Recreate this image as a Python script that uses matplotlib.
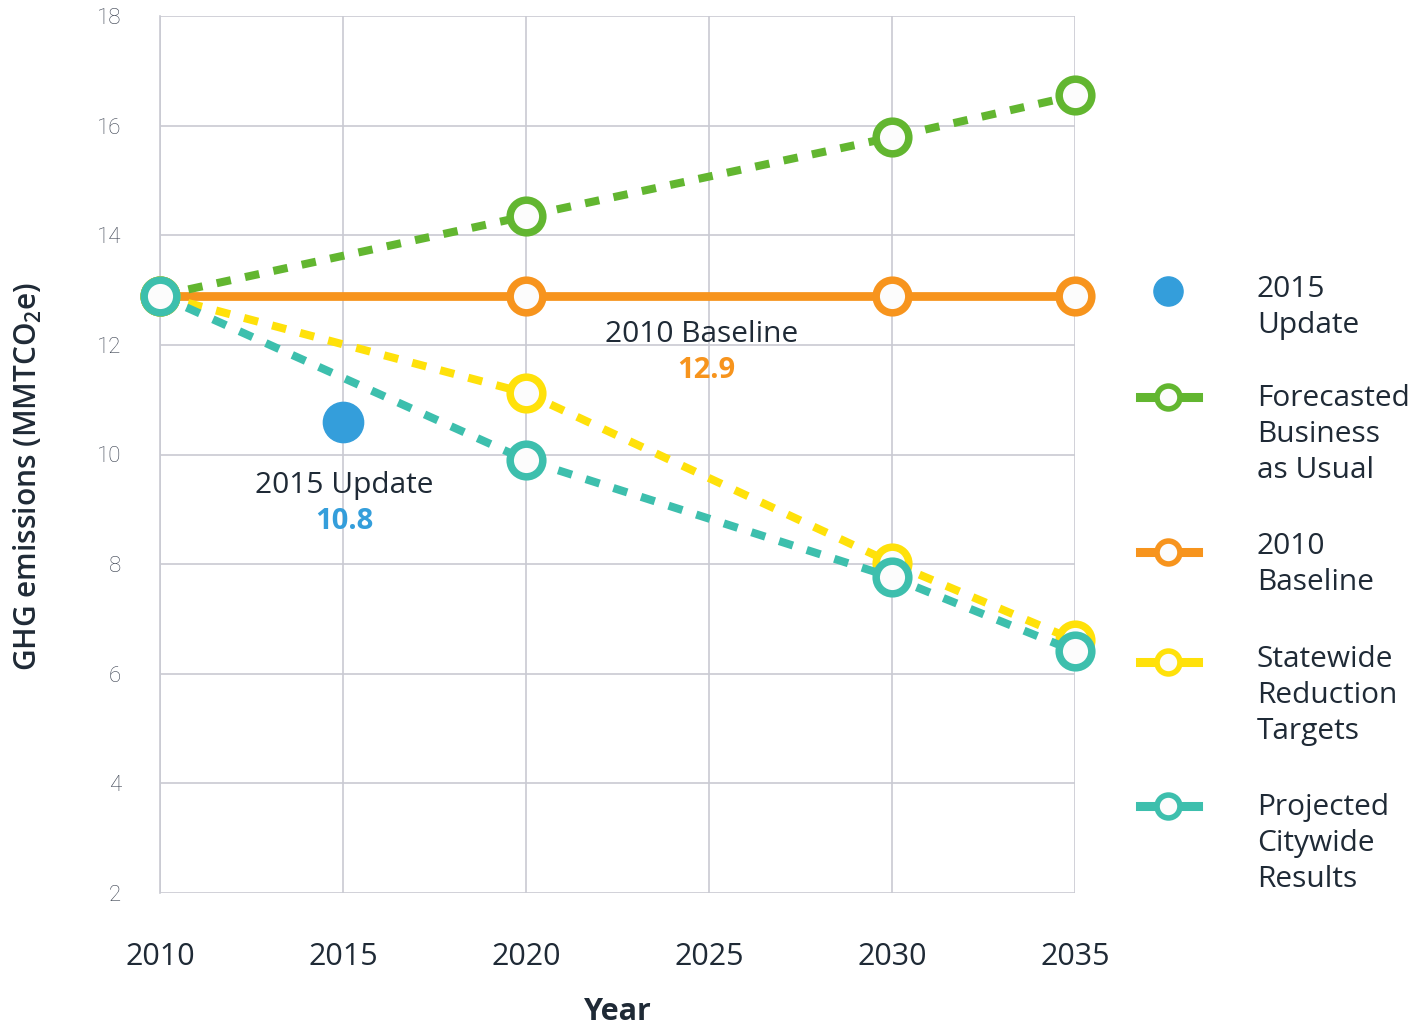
import matplotlib
matplotlib.use("Agg")
import matplotlib.pyplot as plt
from matplotlib.lines import Line2D

# data
years = [2010, 2020, 2030, 2035]
baseline = [12.9, 12.9, 12.9, 12.9]
business_as_usual = [12.9, 14.35, 15.79, 16.55]
statewide_targets = [12.9, 11.12, 8.02, 6.61]
citywide_results = [12.9, 9.9, 7.76, 6.41]
update_year = [2015]
update_value = [10.6]

x_ticks = [2010, 2015, 2020, 2025, 2030, 2035]
y_ticks = [2, 4, 6, 8, 10, 12, 14, 16, 18]

GREEN = "#62b630"
ORANGE = "#f7941d"
YELLOW = "#ffe10a"
TEAL = "#3dbfad"
BLUE = "#349edb"
DARK = "#1f2a36"
GRID = "#c9cad2"

plt.rcParams['font.family'] = ['Open Sans', 'DejaVu Sans']
plt.rcParams['mathtext.fontset'] = 'custom'
plt.rcParams['mathtext.rm'] = 'Open Sans'

W, H = 1422, 1027
fig = plt.figure(figsize=(W / 100, H / 100), dpi=100)
ax = fig.add_axes([160 / W, 1 - 893 / H, (1075 - 160) / W, (893 - 16) / H])

ax.set_xlim(2010, 2035)
ax.set_ylim(2, 18)
ax.set_xticks(x_ticks)
ax.set_yticks(y_ticks)
ax.grid(True, color=GRID, linewidth=1.2)
ax.set_axisbelow(True)
for side in ["top", "right", "bottom"]:
    ax.spines[side].set_visible(False)
ax.spines["left"].set_color(GRID)
ax.spines["left"].set_linewidth(1.2)
ax.tick_params(length=0)
ax.tick_params(axis="x", pad=35, labelsize=22, labelcolor=DARK)
for lab in ax.get_yticklabels():
    lab.set_family(['Roboto', 'DejaVu Sans'])
    lab.set_fontweight("light")
    lab.set_fontsize(16)
    lab.set_color("#3a4150")
ax.tick_params(axis="y", pad=28)

ring = dict(marker="o", markersize=23.5, markeredgewidth=5.4,
            markerfacecolor="#fcfcfc", clip_on=False)
dash = (1.8, 1.8)

ax.plot(years, baseline, color=ORANGE, linewidth=6.3,
        markeredgecolor=ORANGE, zorder=3, **ring)
ax.plot(years, business_as_usual, color=GREEN, linewidth=5.8, dashes=dash,
        markeredgecolor=GREEN, zorder=4, **ring)
ax.plot(years, statewide_targets, color=YELLOW, linewidth=5.8, dashes=dash,
        markeredgecolor=YELLOW, zorder=5, **ring)
ax.plot(years, citywide_results, color=TEAL, linewidth=5.8, dashes=dash,
        markeredgecolor=TEAL, zorder=6, **ring)
ax.plot(update_year, update_value, "o", color=BLUE, markersize=29, zorder=6)

# annotations
ax.annotate("2015 Update", xy=(update_year[0], update_value[0]), xytext=(1, -46),
            textcoords="offset points", ha="center", va="center",
            fontsize=21.5, color=DARK)
ax.annotate("10.8", xy=(update_year[0], update_value[0]), xytext=(1, -72),
            textcoords="offset points", ha="center", va="center",
            fontsize=21, color=BLUE, fontweight="bold")
ax.annotate("2010 Baseline", xy=(2025, baseline[0]), xytext=(-5, -28),
            textcoords="offset points", ha="center", va="center",
            fontsize=21.5, color=DARK)
ax.annotate("12.9", xy=(2025, baseline[0]), xytext=(-2, -54),
            textcoords="offset points", ha="center", va="center",
            fontsize=21, color=ORANGE, fontweight="bold")

ax.set_xlabel("Year", fontsize=22, color=DARK, fontweight="bold", labelpad=18)
fig.text(28 / W, 1 - 476 / H, r"GHG emissions (MMTCO$_{\mathregular{2}}$e)",
         rotation=90, ha="center", va="center", fontsize=21.5,
         color=DARK, fontweight="semibold")

# legend drawn by hand so the handle sits on the first line of each label
legend = [
    ("2015\nUpdate", BLUE, 291, False, 291),
    ("Forecasted\nBusiness\nas Usual", GREEN, 397, True, 400),
    ("2010\nBaseline", ORANGE, 552, True, 548),
    ("Statewide\nReduction\nTargets", YELLOW, 662, True, 661),
    ("Projected\nCitywide\nResults", TEAL, 806, True, 809),
]
for label, color, ypix, has_line, text_y in legend:
    fy = 1 - ypix / H
    if has_line:
        fig.add_artist(Line2D([1140 / W, 1198 / W], [fy, fy], transform=fig.transFigure,
                              color=color, linewidth=6.5))
        fig.add_artist(Line2D([1168 / W], [fy], transform=fig.transFigure,
                              marker="o", markersize=16.5, markeredgewidth=4,
                              markeredgecolor=color, markerfacecolor="#fcfcfc"))
    else:
        fig.add_artist(Line2D([1168 / W], [fy], transform=fig.transFigure,
                              marker="o", markersize=21, color=color, linestyle="none"))
    fig.text(1257 / W, 1 - (text_y - 16) / H, label, ha="left", va="top", fontsize=21.5,
             color=DARK, linespacing=1.32)

fig.savefig("out.png", dpi=100)
